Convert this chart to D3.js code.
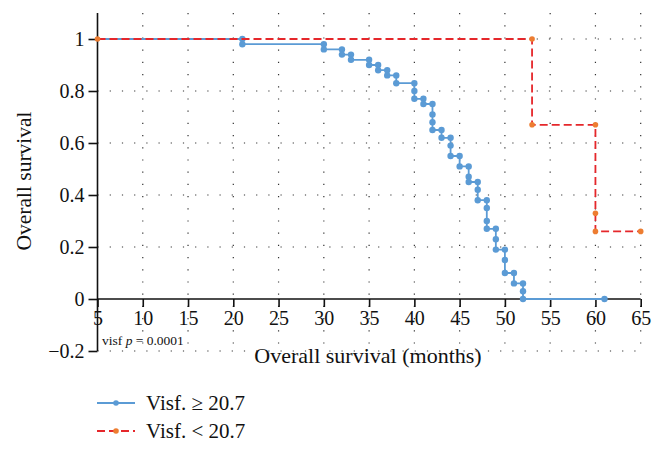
<!DOCTYPE html>
<html>
<head>
<meta charset="utf-8">
<script src="https://cdn.jsdelivr.net/npm/d3@7"></script>
<style>
  html, body { margin: 0; padding: 0; background: #fff; }
  svg { display: block; }
  text { font-family: "Liberation Serif", "Times New Roman", serif; fill: #111; }
</style>
</head>
<body>
<svg id="chart" width="664" height="449"></svg>
<script>
// ---- data ----
const xTicks = [5, 10, 15, 20, 25, 30, 35, 40, 45, 50, 55, 60, 65];
const yTicks = [-0.2, 0, 0.2, 0.4, 0.6, 0.8, 1];
const seriesNames = ["Visf. \u2265 20.7", "Visf. < 20.7"];

// Visf >= 20.7 : step curve vertices (months, survival)
const highTime = [5, 21, 21, 30, 30, 32, 32, 33, 33, 35, 35, 36, 36, 37, 37, 38, 38, 40, 40, 40,
  41, 41, 42, 42, 42, 42, 43, 43, 44, 44, 44, 45, 45, 46, 46, 46, 47, 47, 47,
  48, 48, 48, 48, 49, 49, 49, 50, 50, 50, 51, 51, 52, 52, 52, 61];
const highSurv = [1, 1, 0.98, 0.98, 0.96, 0.96, 0.94, 0.94, 0.92, 0.92, 0.90, 0.90, 0.88, 0.88, 0.86, 0.86, 0.83, 0.83, 0.80, 0.77,
  0.77, 0.75, 0.75, 0.71, 0.68, 0.65, 0.65, 0.62, 0.62, 0.59, 0.55, 0.55, 0.51, 0.51, 0.47, 0.45, 0.45, 0.42, 0.38,
  0.38, 0.35, 0.30, 0.27, 0.27, 0.23, 0.19, 0.19, 0.15, 0.10, 0.10, 0.06, 0.06, 0.03, 0, 0];

// Visf < 20.7
const lowTime = [5, 53, 53, 60, 60, 60, 65];
const lowSurv = [1, 1, 0.67, 0.67, 0.33, 0.26, 0.26];

const pLabel = "0.0001";

// ---- layout ----
const svg = d3.select("#chart");
const x = d3.scaleLinear().domain([5, 65]).range([97.5, 640.7]);
const y = d3.scaleLinear().domain([-0.2, 1.1]).range([351, 13]);

const blue = "#5b9bd5", red = "#e5272b", orange = "#ed7d31";

// grid
const grid = svg.append("g").attr("stroke", "#333").attr("stroke-width", 1.2).attr("stroke-dasharray", "1.2,11");
grid.selectAll(".vg").data(xTicks.filter(d => d !== 5)).join("line")
  .attr("x1", d => x(d)).attr("x2", d => x(d))
  .attr("y1", y(1.1)).attr("y2", y(-0.2));
grid.selectAll(".hg").data(yTicks.filter(d => d !== 0)).join("line")
  .attr("x1", x(5)).attr("x2", x(65))
  .attr("y1", d => y(d)).attr("y2", d => y(d));

// axes
const xAxis = d3.axisBottom(x).tickValues(xTicks).tickSize(8).tickPadding(4).tickFormat(d3.format("d"));
const gx = svg.append("g").attr("transform", `translate(0,${y(0)})`).call(xAxis);
const yAxis = d3.axisLeft(y).tickValues(yTicks).tickSize(9).tickPadding(4)
  .tickFormat(d => d === 0 ? "0" : d === 1 ? "1" : d3.format(".1f")(d).replace("-", "\u2212"));
const gy = svg.append("g").attr("transform", `translate(${x(5)},0)`).call(yAxis);
[gx, gy].forEach(g => {
  g.select(".domain").attr("stroke", "#111").attr("stroke-width", 1.6);
  g.selectAll(".tick line").attr("stroke", "#111").attr("stroke-width", 1.6);
  g.selectAll(".tick text").style("font-family", "'Liberation Serif', serif").style("font-size", "20px").attr("fill", "#111");
});
gx.select(".domain").attr("d", `M${x(5)},0H${x(65)}`);
gy.select(".domain").attr("d", `M0,${y(-0.2)}V${y(1.1)}`);

// series
const line = d3.line().x(d => x(d[0])).y(d => y(d[1]));
const high = highTime.map((t, i) => [t, highSurv[i]]);
const low = lowTime.map((t, i) => [t, lowSurv[i]]);

svg.append("path").datum(high).attr("d", line).attr("fill", "none")
  .attr("stroke", blue).attr("stroke-width", 1.8);
svg.append("g").selectAll("circle").data(high.slice(1)).join("circle")
  .attr("cx", d => x(d[0])).attr("cy", d => y(d[1])).attr("r", 3.2).attr("fill", blue);

svg.append("path").datum(low).attr("d", line).attr("fill", "none")
  .attr("stroke", red).attr("stroke-width", 1.8).attr("stroke-dasharray", "8,4");
svg.append("g").selectAll("circle").data(low).join("circle")
  .attr("cx", d => x(d[0])).attr("cy", d => y(d[1])).attr("r", 2.8).attr("fill", orange);

// titles
svg.append("text").attr("x", 368).attr("y", 363).attr("text-anchor", "middle")
  .style("font-size", "22px").text("Overall survival (months)");
svg.append("text").attr("transform", `translate(31,${181}) rotate(-90)`).attr("text-anchor", "middle")
  .style("font-size", "21.5px").text("Overall survival");

// p value
const pt = svg.append("text").attr("x", 102).attr("y", 345).style("font-size", "13.5px");
pt.append("tspan").text("visf ");
pt.append("tspan").style("font-style", "italic").text("p");
pt.append("tspan").text(" = " + pLabel);

// legend
const legend = svg.append("g");
const legY = [403, 431];
legend.append("line").attr("x1", 97).attr("x2", 135).attr("y1", legY[0]).attr("y2", legY[0])
  .attr("stroke", blue).attr("stroke-width", 1.8);
legend.append("circle").attr("cx", 116).attr("cy", legY[0]).attr("r", 2.8).attr("fill", blue);
legend.append("line").attr("x1", 97).attr("x2", 135).attr("y1", legY[1]).attr("y2", legY[1])
  .attr("stroke", red).attr("stroke-width", 1.8).attr("stroke-dasharray", "8,4");
legend.append("circle").attr("cx", 116).attr("cy", legY[1]).attr("r", 2.8).attr("fill", orange);
seriesNames.forEach((n, i) => {
  legend.append("text").attr("x", 146).attr("y", legY[i] + 7).style("font-size", "21px").text(n);
});
</script>
</body>
</html>
